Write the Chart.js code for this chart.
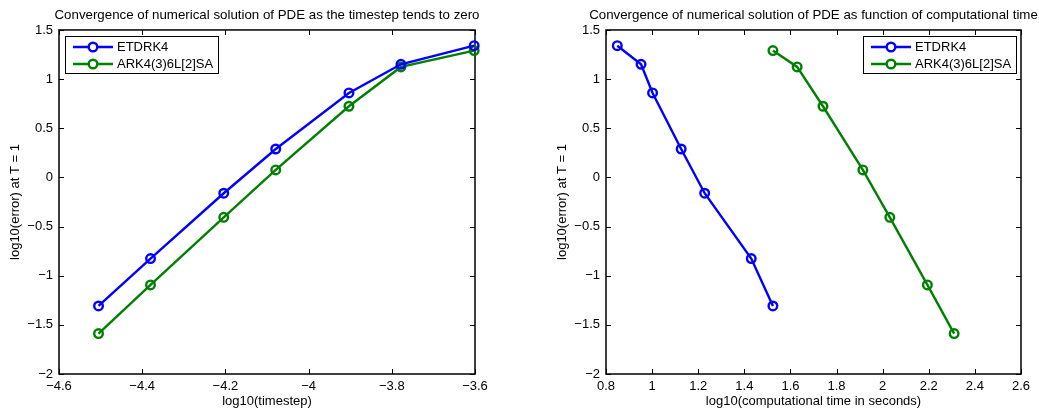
<!DOCTYPE html>
<html>
<head>
<meta charset="utf-8">
<title>Convergence</title>
<script src="https://cdn.jsdelivr.net/npm/chart.js@4.4.1/dist/chart.umd.min.js"></script>
<style>
  html, body { margin: 0; padding: 0; background: #fff; overflow: hidden; width: 1039px; height: 409px; }
  .panel { position: absolute; top: 0; height: 409px; }
  #left-panel { left: 0; width: 534px; }
  #right-panel { left: 547px; width: 533px; }
</style>
</head>
<body>
<div class="panel" id="left-panel"><canvas id="timestep-chart"></canvas></div>
<div class="panel" id="right-panel"><canvas id="cputime-chart"></canvas></div>
<script>
// log10 of the timestep, finest first
const logTimestep = [-4.505, -4.380, -4.204, -4.079, -3.903, -3.778, -3.602];

// log10 of the error at T = 1, per timestep
const etdrk4Error = [-1.308, -0.826, -0.161, 0.289, 0.859, 1.151, 1.340];
const ark4Error = [-1.589, -1.094, -0.406, 0.076, 0.724, 1.124, 1.290];

// log10 of the run time in seconds, per timestep
const etdrk4Time = [1.524, 1.430, 1.228, 1.126, 1.002, 0.952, 0.849];
const ark4Time = [2.310, 2.194, 2.031, 1.914, 1.741, 1.629, 1.524];

const timestepTicks = [-4.6, -4.4, -4.2, -4.0, -3.8, -3.6];
const cpuTimeTicks = [0.8, 1.0, 1.2, 1.4, 1.6, 1.8, 2.0, 2.2, 2.4, 2.6];
const errorTicks = [-2, -1.5, -1, -0.5, 0, 0.5, 1, 1.5];

const FONT_FAMILY = "'Liberation Sans', Arial, Helvetica, sans-serif";
const FONT_SIZE = 13;
const AXIS_WIDTH = 59;
const BLUE = '#0000ff';
const GREEN = '#008000';

function tickText(value) {
    return String(Number(value.toFixed(2))).replace('-', '\u2212');
}

function pairs(xs, ys) {
    return xs.map((x, i) => ({ x, y: ys[i] }));
}

function lineDataset(label, data, color) {
    return {
        label,
        data,
        borderColor: color,
        backgroundColor: color,
        pointBorderColor: color,
        pointBackgroundColor: 'rgba(0,0,0,0)',
        borderWidth: 2.4,
        pointBorderWidth: 2.4,
        pointRadius: 4.3,
        pointHoverRadius: 4.3,
        tension: 0,
        fill: false,
        clip: false
    };
}

function axis(ticks, title, isX) {
    return {
        type: 'linear',
        position: isX ? 'bottom' : 'left',
        min: ticks[0],
        max: ticks[ticks.length - 1],
        afterBuildTicks: scale => {
            scale.ticks = ticks.map(v => ({ value: v }));
        },
        afterFit: scale => {
            if (isX) {
                scale.height = 35;
            } else {
                scale.width = AXIS_WIDTH;
            }
        },
        grid: { display: false, drawTicks: false },
        border: { display: false },
        ticks: {
            color: '#000',
            font: { family: FONT_FAMILY, size: FONT_SIZE },
            padding: isX ? 5 : 6,
            maxRotation: 0,
            autoSkip: false,
            callback: value => tickText(value)
        },
        title: {
            display: true,
            text: title,
            color: '#000',
            font: { family: FONT_FAMILY, size: FONT_SIZE, lineHeight: 1.2 },
            padding: isX ? { top: 0, bottom: 0 } : { top: 7.2, bottom: 0 }
        }
    };
}

// empty axis on the right, same width as the left one, so the title
// (centred on the canvas) ends up centred over the plot box
const spacerAxis = {
    type: 'linear',
    position: 'right',
    afterFit: scale => {
        scale.width = AXIS_WIDTH;
    },
    grid: { display: false, drawTicks: false },
    border: { display: false },
    ticks: { display: false }
};

// box round the plot area with inward tick marks on all four sides
const axisFrame = {
    id: 'axisFrame',
    beforeDatasetsDraw(chart) {
        const { ctx, chartArea: a, scales: { x, y } } = chart;
        const len = 5;
        ctx.save();
        ctx.strokeStyle = '#000';
        ctx.lineWidth = 1;
        ctx.beginPath();
        x.ticks.forEach(t => {
            const px = Math.round(x.getPixelForValue(t.value)) + 0.5;
            ctx.moveTo(px, a.bottom);
            ctx.lineTo(px, a.bottom - len);
            ctx.moveTo(px, a.top);
            ctx.lineTo(px, a.top + len);
        });
        y.ticks.forEach(t => {
            const py = Math.round(y.getPixelForValue(t.value)) + 0.5;
            ctx.moveTo(a.left, py);
            ctx.lineTo(a.left + len, py);
            ctx.moveTo(a.right, py);
            ctx.lineTo(a.right - len, py);
        });
        ctx.stroke();
        ctx.lineWidth = 1.5;
        ctx.strokeRect(a.left, a.top, a.right - a.left, a.bottom - a.top);
        ctx.restore();
    }
};

// legend drawn as a framed box inside the plot area
const insetLegend = {
    id: 'insetLegend',
    afterDraw(chart, args, opts) {
        const { ctx, chartArea: a } = chart;
        const sets = chart.data.datasets;
        ctx.save();
        ctx.font = FONT_SIZE + 'px ' + FONT_FAMILY;
        const textW = Math.max(...sets.map(d => ctx.measureText(d.label).width));
        const w = Math.round(52 + textW + 5);
        const h = 37;
        const left = opts.align === 'right' ? Math.round(a.right - 5 - w) : Math.round(a.left + 6);
        const top = Math.round(a.top + 6);
        ctx.fillStyle = '#fff';
        ctx.fillRect(left, top, w, h);
        ctx.strokeStyle = '#000';
        ctx.lineWidth = 1;
        ctx.strokeRect(left + 0.5, top + 0.5, w, h);
        sets.forEach((d, i) => {
            const yy = top + 11 + i * 17;
            ctx.strokeStyle = d.borderColor;
            ctx.lineWidth = d.borderWidth;
            ctx.beginPath();
            ctx.moveTo(left + 8, yy);
            ctx.lineTo(left + 48, yy);
            ctx.stroke();
            ctx.beginPath();
            ctx.arc(left + 28, yy, d.pointRadius, 0, Math.PI * 2);
            ctx.fillStyle = '#fff';
            ctx.fill();
            ctx.stroke();
            ctx.fillStyle = '#000';
            ctx.textBaseline = 'middle';
            ctx.textAlign = 'left';
            ctx.fillText(d.label, left + 52, yy);
        });
        ctx.restore();
    }
};

function makeChart(canvasId, titleText, datasets, xTicks, xTitle, legendAlign) {
    return new Chart(document.getElementById(canvasId), {
        type: 'line',
        data: { datasets },
        plugins: [axisFrame, insetLegend],
        options: {
            responsive: true,
            maintainAspectRatio: false,
            animation: false,
            events: [],
            layout: { padding: 0 },
            plugins: {
                legend: { display: false },
                tooltip: { enabled: false },
                title: {
                    display: true,
                    text: titleText,
                    color: '#000',
                    font: { family: FONT_FAMILY, size: 13.3, weight: 'normal', lineHeight: 1.2 },
                    padding: { top: 7.5, bottom: 6.5 }
                },
                insetLegend: { align: legendAlign }
            },
            scales: {
                x: axis(xTicks, xTitle, true),
                y: axis(errorTicks, 'log10(error) at T = 1', false),
                spacer: spacerAxis
            }
        }
    });
}

makeChart(
    'timestep-chart',
    'Convergence of numerical solution of PDE as the timestep tends to zero',
    [
        lineDataset('ETDRK4', pairs(logTimestep, etdrk4Error), BLUE),
        lineDataset('ARK4(3)6L[2]SA', pairs(logTimestep, ark4Error), GREEN)
    ],
    timestepTicks,
    'log10(timestep)',
    'left'
);

makeChart(
    'cputime-chart',
    'Convergence of numerical solution of PDE as function of computational time',
    [
        lineDataset('ETDRK4', pairs(etdrk4Time, etdrk4Error), BLUE),
        lineDataset('ARK4(3)6L[2]SA', pairs(ark4Time, ark4Error), GREEN)
    ],
    cpuTimeTicks,
    'log10(computational time in seconds)',
    'right'
);
</script>
</body>
</html>
